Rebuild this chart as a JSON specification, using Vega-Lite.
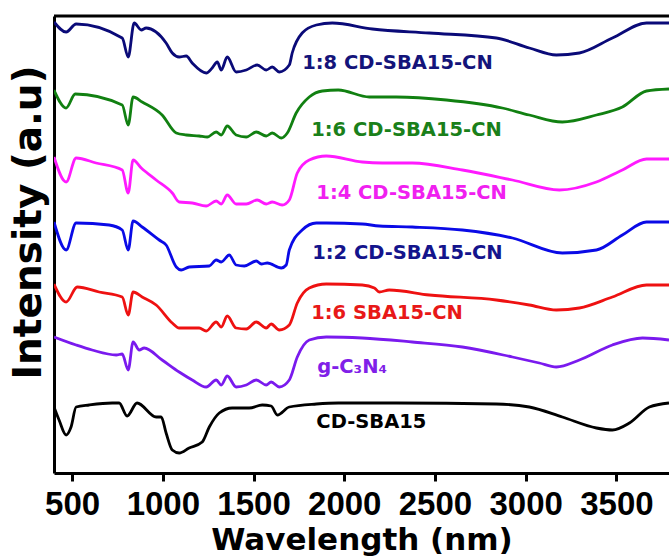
{
  "$schema": "https://vega.github.io/schema/vega-lite/v6.json",
  "width": 615,
  "height": 457,
  "autosize": {"type": "none"},
  "padding": {"left": 54, "top": 16, "right": 0, "bottom": 83},
  "background": "white",
  "config": {"view": {"stroke": null}},
  "datasets": {
    "curves": [
      {"s":"1:8","w":400,"v":451},{"s":"1:8","w":467,"v":441},{"s":"1:8","w":522,"v":449},{"s":"1:8","w":776,"v":435},{"s":"1:8","w":809,"v":416},{"s":"1:8","w":842,"v":450},{"s":"1:8","w":881,"v":443},{"s":"1:8","w":908,"v":445},{"s":"1:8","w":1018,"v":430},{"s":"1:8","w":1052,"v":420},{"s":"1:8","w":1090,"v":416},{"s":"1:8","w":1129,"v":417},{"s":"1:8","w":1162,"v":410},{"s":"1:8","w":1239,"v":400},{"s":"1:8","w":1272,"v":405},{"s":"1:8","w":1300,"v":411},{"s":"1:8","w":1322,"v":403},{"s":"1:8","w":1355,"v":416},{"s":"1:8","w":1404,"v":401},{"s":"1:8","w":1460,"v":403},{"s":"1:8","w":1520,"v":408},{"s":"1:8","w":1570,"v":403},{"s":"1:8","w":1603,"v":406},{"s":"1:8","w":1642,"v":401},{"s":"1:8","w":1697,"v":408},{"s":"1:8","w":1713,"v":420},{"s":"1:8","w":1768,"v":440},{"s":"1:8","w":1846,"v":448},{"s":"1:8","w":1934,"v":450},{"s":"1:8","w":2155,"v":444},{"s":"1:8","w":2469,"v":440},{"s":"1:8","w":2838,"v":435},{"s":"1:8","w":3020,"v":425},{"s":"1:8","w":3169,"v":418},{"s":"1:8","w":3296,"v":420},{"s":"1:8","w":3478,"v":435},{"s":"1:8","w":3666,"v":450},{"s":"1:8","w":3790,"v":450},
      {"s":"1:6","w":400,"v":383},{"s":"1:6","w":467,"v":365},{"s":"1:6","w":517,"v":379},{"s":"1:6","w":776,"v":368},{"s":"1:6","w":809,"v":348},{"s":"1:6","w":836,"v":376},{"s":"1:6","w":886,"v":371},{"s":"1:6","w":996,"v":358},{"s":"1:6","w":1074,"v":340},{"s":"1:6","w":1129,"v":338},{"s":"1:6","w":1200,"v":337},{"s":"1:6","w":1245,"v":336},{"s":"1:6","w":1294,"v":341},{"s":"1:6","w":1322,"v":338},{"s":"1:6","w":1355,"v":347},{"s":"1:6","w":1404,"v":338},{"s":"1:6","w":1460,"v":336},{"s":"1:6","w":1515,"v":341},{"s":"1:6","w":1570,"v":337},{"s":"1:6","w":1603,"v":340},{"s":"1:6","w":1653,"v":335},{"s":"1:6","w":1686,"v":340},{"s":"1:6","w":1735,"v":360},{"s":"1:6","w":1807,"v":376},{"s":"1:6","w":1879,"v":382},{"s":"1:6","w":1967,"v":383},{"s":"1:6","w":2138,"v":376},{"s":"1:6","w":2287,"v":376},{"s":"1:6","w":2563,"v":373},{"s":"1:6","w":2871,"v":365},{"s":"1:6","w":3020,"v":358},{"s":"1:6","w":3202,"v":351},{"s":"1:6","w":3390,"v":358},{"s":"1:6","w":3533,"v":366},{"s":"1:6","w":3666,"v":382},{"s":"1:6","w":3790,"v":384},
      {"s":"1:4","w":400,"v":316},{"s":"1:4","w":467,"v":291},{"s":"1:4","w":522,"v":315},{"s":"1:4","w":632,"v":310},{"s":"1:4","w":776,"v":303},{"s":"1:4","w":809,"v":280},{"s":"1:4","w":836,"v":313},{"s":"1:4","w":881,"v":305},{"s":"1:4","w":963,"v":293},{"s":"1:4","w":1052,"v":280},{"s":"1:4","w":1090,"v":271},{"s":"1:4","w":1162,"v":270},{"s":"1:4","w":1239,"v":267},{"s":"1:4","w":1294,"v":272},{"s":"1:4","w":1322,"v":269},{"s":"1:4","w":1355,"v":278},{"s":"1:4","w":1404,"v":269},{"s":"1:4","w":1460,"v":269},{"s":"1:4","w":1520,"v":273},{"s":"1:4","w":1570,"v":269},{"s":"1:4","w":1603,"v":271},{"s":"1:4","w":1658,"v":268},{"s":"1:4","w":1697,"v":273},{"s":"1:4","w":1741,"v":300},{"s":"1:4","w":1807,"v":313},{"s":"1:4","w":1901,"v":317},{"s":"1:4","w":2099,"v":311},{"s":"1:4","w":2210,"v":310},{"s":"1:4","w":2375,"v":310},{"s":"1:4","w":2651,"v":303},{"s":"1:4","w":2927,"v":293},{"s":"1:4","w":3186,"v":283},{"s":"1:4","w":3390,"v":291},{"s":"1:4","w":3533,"v":303},{"s":"1:4","w":3666,"v":314},{"s":"1:4","w":3790,"v":314},
      {"s":"1:2","w":400,"v":251},{"s":"1:2","w":467,"v":223},{"s":"1:2","w":522,"v":250},{"s":"1:2","w":704,"v":248},{"s":"1:2","w":776,"v":243},{"s":"1:2","w":809,"v":223},{"s":"1:2","w":836,"v":252},{"s":"1:2","w":886,"v":246},{"s":"1:2","w":980,"v":233},{"s":"1:2","w":1018,"v":228},{"s":"1:2","w":1074,"v":206},{"s":"1:2","w":1101,"v":203},{"s":"1:2","w":1145,"v":206},{"s":"1:2","w":1256,"v":207},{"s":"1:2","w":1294,"v":213},{"s":"1:2","w":1322,"v":211},{"s":"1:2","w":1366,"v":218},{"s":"1:2","w":1404,"v":208},{"s":"1:2","w":1449,"v":207},{"s":"1:2","w":1515,"v":212},{"s":"1:2","w":1543,"v":209},{"s":"1:2","w":1576,"v":210},{"s":"1:2","w":1653,"v":205},{"s":"1:2","w":1680,"v":208},{"s":"1:2","w":1697,"v":223},{"s":"1:2","w":1768,"v":243},{"s":"1:2","w":1846,"v":250},{"s":"1:2","w":1901,"v":250},{"s":"1:2","w":2099,"v":249},{"s":"1:2","w":2193,"v":247},{"s":"1:2","w":2375,"v":246},{"s":"1:2","w":2651,"v":243},{"s":"1:2","w":2927,"v":235},{"s":"1:2","w":3202,"v":220},{"s":"1:2","w":3390,"v":223},{"s":"1:2","w":3533,"v":238},{"s":"1:2","w":3666,"v":251},{"s":"1:2","w":3790,"v":251},
      {"s":"SBA","w":400,"v":189},{"s":"SBA","w":467,"v":171},{"s":"SBA","w":528,"v":186},{"s":"SBA","w":649,"v":181},{"s":"SBA","w":776,"v":176},{"s":"SBA","w":809,"v":158},{"s":"SBA","w":836,"v":181},{"s":"SBA","w":886,"v":176},{"s":"SBA","w":963,"v":168},{"s":"SBA","w":1052,"v":150},{"s":"SBA","w":1090,"v":145},{"s":"SBA","w":1200,"v":145},{"s":"SBA","w":1239,"v":142},{"s":"SBA","w":1294,"v":151},{"s":"SBA","w":1322,"v":146},{"s":"SBA","w":1355,"v":157},{"s":"SBA","w":1404,"v":145},{"s":"SBA","w":1460,"v":144},{"s":"SBA","w":1515,"v":151},{"s":"SBA","w":1570,"v":145},{"s":"SBA","w":1597,"v":149},{"s":"SBA","w":1642,"v":143},{"s":"SBA","w":1697,"v":148},{"s":"SBA","w":1741,"v":170},{"s":"SBA","w":1807,"v":185},{"s":"SBA","w":1901,"v":189},{"s":"SBA","w":2099,"v":188},{"s":"SBA","w":2166,"v":185},{"s":"SBA","w":2193,"v":181},{"s":"SBA","w":2248,"v":183},{"s":"SBA","w":2469,"v":178},{"s":"SBA","w":2838,"v":173},{"s":"SBA","w":3020,"v":168},{"s":"SBA","w":3169,"v":163},{"s":"SBA","w":3296,"v":165},{"s":"SBA","w":3478,"v":176},{"s":"SBA","w":3666,"v":188},{"s":"SBA","w":3790,"v":188},
      {"s":"g","w":400,"v":136},{"s":"g","w":522,"v":128},{"s":"g","w":610,"v":123},{"s":"g","w":743,"v":118},{"s":"g","w":776,"v":119},{"s":"g","w":809,"v":103},{"s":"g","w":836,"v":131},{"s":"g","w":870,"v":123},{"s":"g","w":897,"v":125},{"s":"g","w":996,"v":113},{"s":"g","w":1090,"v":101},{"s":"g","w":1162,"v":93},{"s":"g","w":1239,"v":86},{"s":"g","w":1294,"v":93},{"s":"g","w":1322,"v":88},{"s":"g","w":1355,"v":97},{"s":"g","w":1404,"v":86},{"s":"g","w":1460,"v":88},{"s":"g","w":1515,"v":93},{"s":"g","w":1570,"v":88},{"s":"g","w":1597,"v":91},{"s":"g","w":1642,"v":86},{"s":"g","w":1697,"v":93},{"s":"g","w":1741,"v":116},{"s":"g","w":1807,"v":133},{"s":"g","w":1901,"v":136},{"s":"g","w":2099,"v":135},{"s":"g","w":2375,"v":131},{"s":"g","w":2651,"v":126},{"s":"g","w":2927,"v":116},{"s":"g","w":3075,"v":110},{"s":"g","w":3169,"v":106},{"s":"g","w":3296,"v":113},{"s":"g","w":3478,"v":128},{"s":"g","w":3644,"v":135},{"s":"g","w":3790,"v":133},
      {"s":"CD","w":400,"v":66},{"s":"CD","w":428,"v":53},{"s":"CD","w":467,"v":38},{"s":"CD","w":494,"v":46},{"s":"CD","w":522,"v":66},{"s":"CD","w":594,"v":68},{"s":"CD","w":721,"v":70},{"s":"CD","w":759,"v":70},{"s":"CD","w":803,"v":57},{"s":"CD","w":858,"v":70},{"s":"CD","w":963,"v":56},{"s":"CD","w":991,"v":56},{"s":"CD","w":1018,"v":40},{"s":"CD","w":1052,"v":23},{"s":"CD","w":1090,"v":20},{"s":"CD","w":1145,"v":25},{"s":"CD","w":1217,"v":31},{"s":"CD","w":1256,"v":46},{"s":"CD","w":1311,"v":60},{"s":"CD","w":1382,"v":65},{"s":"CD","w":1476,"v":65},{"s":"CD","w":1548,"v":68},{"s":"CD","w":1597,"v":67},{"s":"CD","w":1631,"v":58},{"s":"CD","w":1697,"v":66},{"s":"CD","w":1846,"v":69},{"s":"CD","w":1967,"v":70},{"s":"CD","w":2287,"v":70},{"s":"CD","w":2838,"v":69},{"s":"CD","w":3020,"v":66},{"s":"CD","w":3202,"v":56},{"s":"CD","w":3390,"v":45},{"s":"CD","w":3478,"v":43},{"s":"CD","w":3572,"v":50},{"s":"CD","w":3682,"v":66},{"s":"CD","w":3790,"v":70}
    ],
    "labels": [
      {"s":"1:8","w":1768,"v":410,"t":"1:8 CD-SBA15-CN"},
      {"s":"1:6","w":1818,"v":343,"t":"1:6 CD-SBA15-CN"},
      {"s":"1:4","w":1846,"v":280,"t":"1:4 CD-SBA15-CN"},
      {"s":"1:2","w":1823,"v":220,"t":"1:2 CD-SBA15-CN"},
      {"s":"SBA","w":1818,"v":160,"t":"1:6 SBA15-CN"},
      {"s":"g","w":1851,"v":106,"t":"g-C₃N₄"},
      {"s":"CD","w":1846,"v":51,"t":"CD-SBA15"}
    ]
  },
  "layer": [
    {
      "data": {"name": "curves"},
      "mark": {"type": "line", "strokeWidth": 2.8, "clip": true, "interpolate": "monotone"},
      "encoding": {
        "x": {
          "field": "w", "type": "quantitative",
          "scale": {"domain": [400, 3790], "nice": false, "zero": false},
          "axis": {
            "values": [500, 1000, 1500, 2000, 2500, 3000, 3500],
            "format": "d",
            "grid": false,
            "domainColor": "black", "domainWidth": 3,
            "tickColor": "black", "tickWidth": 3, "tickSize": 8,
            "labelFont": "Liberation Sans", "labelFontSize": 33, "labelFontWeight": "bold", "labelColor": "black",
            "labelPadding": 7, "labelFlush": false,
            "title": "Wavelength (nm)",
            "titleFont": "DejaVu Sans", "titleFontSize": 31, "titleFontWeight": "bold", "titleColor": "black",
            "titleY": 67, "titleBaseline": "middle"
          }
        },
        "y": {
          "field": "v", "type": "quantitative",
          "scale": {"domain": [0, 457], "nice": false, "zero": false},
          "axis": {
            "ticks": false, "labels": false, "grid": false,
            "domainColor": "black", "domainWidth": 3,
            "title": "Intensity (a.u)",
            "titleFont": "DejaVu Sans", "titleFontSize": 39, "titleFontWeight": "bold", "titleColor": "black",
            "titleX": -26, "titleY": 206, "titleAngle": 270, "titleAlign": "center", "titleBaseline": "middle"
          }
        },
        "detail": {"field": "s"},
        "color": {
          "field": "s", "type": "nominal",
          "scale": {"domain": ["1:8","1:6","1:4","1:2","SBA","g","CD"], "range": ["#0a0a78","#118011","#ff1aff","#0a0ae6","#ee1111","#7a1aee","#000000"]},
          "legend": null
        }
      }
    },
    {
      "data": {"name": "labels"},
      "mark": {"type": "text", "font": "DejaVu Sans", "fontSize": 19.5, "fontWeight": "bold", "align": "left", "baseline": "middle"},
      "encoding": {
        "x": {"field": "w", "type": "quantitative"},
        "y": {"field": "v", "type": "quantitative"},
        "text": {"field": "t"},
        "color": {
          "field": "s", "type": "nominal",
          "scale": {"domain": ["1:8","1:6","1:4","1:2","SBA","g","CD"], "range": ["#14147a","#1a801a","#f020f0","#14148c","#e81818","#8020e8","#000000"]},
          "legend": null
        }
      }
    },
    {
      "data": {"values": [{}]},
      "mark": {"type": "rule", "strokeWidth": 3, "color": "black"},
      "encoding": {"y": {"datum": 457}}
    }
  ],
  "resolve": {"scale": {"color": "independent"}}
}
